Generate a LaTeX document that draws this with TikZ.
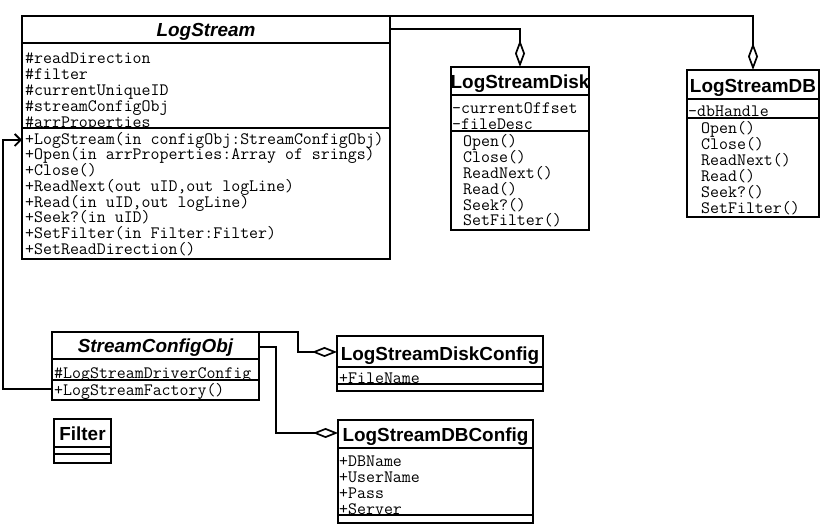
\documentclass[tikz,border=0pt]{standalone}
\usepackage{fontspec}
\setsansfont{Liberation Sans}
\usetikzlibrary{arrows.meta}
\tikzset{
  cls/.style={draw, line width=1.9pt, rectangle, outer sep=0pt, inner sep=0pt, anchor=north west},
  sepline/.style={line width=1.9pt},
  ttl/.style={inner sep=0pt, anchor=base, font={\fontsize{18.9}{18.9}\sffamily\bfseries\selectfont}},
  mem/.style={inner sep=0pt, anchor=base west, font={\fontsize{17.4}{17.4}\ttfamily\selectfont}},
  conn/.style={line width=1.9pt},
  agg/.style={conn, -{Diamond[open, length=27pt, width=10pt, line width=1.7pt]}},
  aggh/.style={conn, -{Diamond[open, length=25pt, width=10pt, line width=1.7pt]}},
  gen/.style={conn, -{Straight Barb[length=6pt, width=12pt, line width=1.8pt]}}
}
\begin{document}
\begin{tikzpicture}[x=1pt, y=-1pt]
\fill[white] (0,0) rectangle (825,526);
\useasboundingbox (0,0) rectangle (825,526);

% ---------- LogStream ----------
\node[cls, minimum width=368pt, minimum height=243pt] (LS) at (22,16) {};
\draw[sepline] (22,43) -- (390,43);
\draw[sepline] (22,128) -- (390,128);
\node[ttl] (LSt) at (206,37) {\itshape LogStream};
\begin{scope}
\clip (22,43) rectangle (390,128);
\foreach \t [count=\i] in {\#readDirection,\#filter,\#currentUniqueID,\#streamConfigObj,\#arrProperties}
  \node[mem] (LSa\i) at (25,{47.5+16*\i}) {\t};
\end{scope}
\foreach \t [count=\i] in {{+LogStream(in configObj:StreamConfigObj)},{+Open(in arrProperties:Array of srings)},{+Close()},{+ReadNext(out uID,out logLine)},{+Read(in uID,out logLine)},{+Seek?(in uID)},{+SetFilter(in Filter:Filter)},{+SetReadDirection()}}
  \node[mem] (LSm\i) at (25,{128.6+15.7*\i}) {\t};

% ---------- LogStreamDisk ----------
\node[cls, minimum width=138pt, minimum height=163pt] (LSD) at (451,67) {};
\draw[sepline] (451,95) -- (589,95);
\draw[sepline] (451,131) -- (589,131);
\node[ttl] (LSDt) at (520,88.5) {LogStreamDisk};
\begin{scope}
\clip (451,95) rectangle (589,131);
\node[mem] (LSDa1) at (452,114) {-currentOffset};
\node[mem] (LSDa2) at (452,130) {-fileDesc};
\end{scope}
\foreach \t [count=\i] in {Open(),Close(),ReadNext(),Read(),Seek?(),SetFilter()}
  \node[mem] (LSDm\i) at (463,{130.6+15.9*\i}) {\t};

% ---------- LogStreamDB ----------
\node[cls, minimum width=132pt, minimum height=147pt] (LSDB) at (687,70) {};
\draw[sepline] (687,99) -- (819,99);
\draw[sepline] (687,118) -- (819,118);
\node[ttl] (LSDBt) at (753,92.5) {LogStreamDB};
\begin{scope}
\clip (687,99) rectangle (819,118);
\node[mem] (LSDBa1) at (688,117) {-dbHandle};
\end{scope}
\foreach \t [count=\i] in {Open(),Close(),ReadNext(),Read(),Seek?(),SetFilter()}
  \node[mem] (LSDBm\i) at (701,{118+16*\i}) {\t};

% ---------- StreamConfigObj ----------
\node[cls, minimum width=207pt, minimum height=68pt] (SC) at (52,332) {};
\draw[sepline] (52,359) -- (259,359);
\draw[sepline] (52,380) -- (259,380);
\node[ttl] (SCt) at (155.5,352.5) {\itshape StreamConfigObj};
\begin{scope}
\clip (52,359) rectangle (259,380);
\node[mem] (SCa1) at (54,378.5) {\#LogStreamDriverConfig};
\end{scope}
\node[mem] (SCm1) at (54,396) {+LogStreamFactory()};

% ---------- Filter ----------
\node[cls, minimum width=57pt, minimum height=44pt] (F) at (54,419) {};
\draw[sepline] (54,447) -- (111,447);
\draw[sepline] (54,454) -- (111,454);
\node[ttl] (Ft) at (82.5,440.5) {Filter};

% ---------- LogStreamDiskConfig ----------
\node[cls, minimum width=206pt, minimum height=55pt] (LSDC) at (337,336) {};
\draw[sepline] (337,367) -- (543,367);
\draw[sepline] (337,384) -- (543,384);
\node[ttl] (LSDCt) at (440,360.5) {LogStreamDiskConfig};
\begin{scope}
\clip (337,367) rectangle (543,384);
\node[mem] (LSDCa1) at (339,383.5) {+FileName};
\end{scope}

% ---------- LogStreamDBConfig ----------
\node[cls, minimum width=195pt, minimum height=103pt] (LSDBC) at (338,420) {};
\draw[sepline] (338,448) -- (533,448);
\draw[sepline] (338,515) -- (533,515);
\node[ttl] (LSDBCt) at (435.5,441.5) {LogStreamDBConfig};
\begin{scope}
\clip (338,448) rectangle (533,515);
\foreach \t [count=\i] in {+DBName,+UserName,+Pass,+Server}
  \node[mem] (LSDBCa\i) at (339,{450.5+16*\i}) {\t};
\end{scope}

% ---------- connectors ----------
\draw[agg] (LS.north east) -| (LSDB.north);
\draw[agg] ([yshift=-13pt]LS.north east) -| (LSD.north);
\draw[aggh] (SC.north east) -- ++(39,0) |- ([yshift=-16pt]LSDC.north west);
\draw[aggh] ([yshift=-15pt]SC.north east) -- ++(17,0) |- ([yshift=-13pt]LSDBC.north west);
\draw[gen] ([yshift=-57pt]SC.north west) -- ++(-49,0) |- ([yshift=-124pt]LS.north west);
\end{tikzpicture}
\end{document}
